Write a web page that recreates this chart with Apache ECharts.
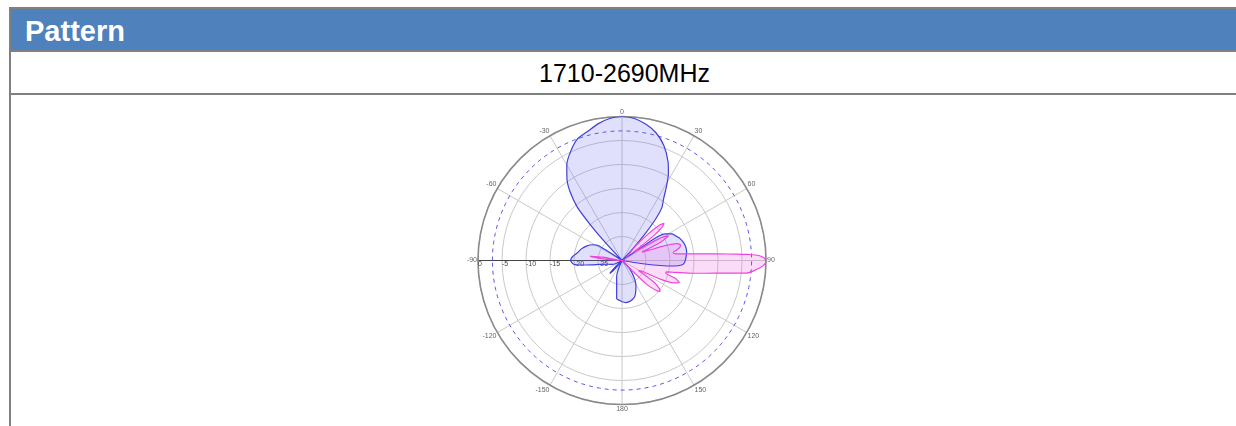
<!DOCTYPE html>
<html><head><meta charset="utf-8">
<script src="https://cdn.jsdelivr.net/npm/echarts@6/dist/echarts.min.js"></script>
<style>
html,body{margin:0;padding:0;width:1236px;height:426px;overflow:hidden;background:#fff;font-family:"Liberation Sans",Arial,sans-serif;}
#frame{position:absolute;left:9px;top:7px;width:1300px;height:500px;border-left:2px solid #808080;border-top:2px solid #808080;}
#hdr{position:absolute;left:0;top:0;right:0;height:41px;background:#4f81bd;border-bottom:2px solid #808080;}
#row2{position:absolute;left:0;top:43px;right:0;height:41px;border-bottom:2px solid #808080;}
#t1{position:absolute;left:25px;top:17px;font-size:29px;line-height:1;font-weight:bold;color:#fff;white-space:nowrap;}
#t2{position:absolute;left:0;width:1249px;top:61px;font-size:25px;line-height:1;color:#000;text-align:center;white-space:nowrap;}
#chart{position:absolute;left:0;top:0;width:1236px;height:426px;}
</style></head>
<body>
<div id="frame"><div id="hdr"></div><div id="row2"></div></div>
<div id="t1">Pattern</div>
<div id="t2">1710-2690MHz</div>
<div id="chart"></div>
<script>
// Compass angles (0 = up, clockwise) and gain in dB
const blueAngles = [-180,-176,-172,-170,-165,-161,-156,-142,-139,-136.5,-134,-132,-118,-112,-105,-100,-98,-96,-94,-90,-86,-80,-74,-68,-62,-58,-56.5,-55,-46,-43,-41.5,-40,-37,-34,-30,-25,-20,-15,-10,-5,0,5,10,15,20,25,28,31,34,37,39,41,43,45,54,56,58,62,66,70,76,82,88,92,94,96,97.5,99,101,133,138,146,152,160,165,170,175,180];
const blueGain   = [-21.4,-21.7,-22,-23.6,-25.7,-26.6,-30,-30,-27,-26.3,-28,-30,-30,-27.8,-27,-25.3,-23.5,-21,-19.8,-19.3,-19.6,-20.6,-21.2,-22,-23,-24,-27,-30,-30,-25,-20,-15.5,-12,-9.5,-7,-4.8,-3.0,-2.2,-1.1,-0.3,0,-0.3,-1.2,-2.5,-4.5,-7.3,-9.4,-12,-14.5,-16.2,-18.8,-23,-27,-30,-30,-24,-19.5,-18.2,-17.6,-17,-16.5,-16.4,-16.7,-17,-17.4,-19,-22,-26,-30,-30,-27.5,-25.2,-23.8,-22.1,-21.6,-21.3,-21.2,-21.4];

const pinkAngles = [-180,-87,-85,-82.5,-80,-78,40,43,45,47,48.5,50,52,54,57,59.5,62,64.5,67,69,71,73,75,77,79,81,82.5,84.8,86.1,86.8,87.2,87.9,89,90.5,92,93,94.5,95.8,96.3,97.6,100.2,102.5,104.5,106,108.5,111,113.5,116,118,121,124,127,129,131,134,137,180];
const pinkGain   = [-30,-30,-26,-23.3,-26,-30,-30,-26,-21.5,-19,-18.3,-19,-21.5,-27,-26,-21,-19,-21,-25.5,-24,-20.5,-18,-17.4,-17.6,-18.3,-19.2,-19,-15,-10,-6,-4,-1.5,-0.4,0,-0.5,-1.2,-2.5,-4,-6,-10,-15,-18.5,-20.5,-20.5,-18.3,-17.2,-18.3,-21,-25,-26,-22,-20.2,-19.8,-20.4,-23,-30,-30];

const refLevel = -3;          // half-power reference circle
const radiusMin = -30, radiusMax = 0, radiusStep = 5;
const angleStep = 30;

function toAxis(c){ return ((c + 90) % 360 + 360) % 360; }
function toCompass(v){ let c = v - 90; if (c > 180) c -= 360; return c; }

const blueData = blueAngles.map((a,i)=>[blueGain[i], toAxis(a)]);
const pinkData = pinkAngles.map((a,i)=>[pinkGain[i], toAxis(a)]);
const refData = [];
for (let a = 0; a <= 360; a += 2) refData.push([refLevel, a]);

const chart = echarts.init(document.getElementById('chart'), null, {renderer:'canvas'});
chart.setOption({
  animation:false,
  polar:{center:[622,260.5], radius:144},
  angleAxis:{
    type:'value', min:0, max:360, interval:angleStep, startAngle:180, clockwise:true,
    axisLine:{show:true, lineStyle:{color:'#8a8a8a', width:1.6}},
    axisTick:{show:false},
    axisLabel:{show:true, fontSize:7, color:'#666', margin:1, formatter:v=>String(toCompass(v))},
    splitLine:{show:true, lineStyle:{color:'#c8c8c8', width:1}}
  },
  radiusAxis:{
    type:'value', min:radiusMin, max:radiusMax, interval:radiusStep,
    axisLine:{show:true, lineStyle:{color:'#444', width:1}},
    axisTick:{show:false},
    axisLabel:{show:true, fontSize:7, color:'#444', margin:0, align:'left', verticalAlign:'top',
      formatter:v=> v===radiusMin ? '' : String(v)},
    splitLine:{show:true, lineStyle:{color:'#c8c8c8', width:1}}
  },
  series:[
    {type:'line', coordinateSystem:'polar', data:refData, symbol:'none', silent:true,
      lineStyle:{color:'#5a5ae6', width:1, type:[4,4]}},
    {type:'line', coordinateSystem:'polar', data:blueData, symbol:'none', smooth:0.25,
      lineStyle:{color:'#3f3fdc', width:1.2},
      areaStyle:{origin:'start', color:'rgba(110,110,240,0.3)'}},
    {type:'line', coordinateSystem:'polar', data:pinkData, symbol:'none', smooth:0.25,
      lineStyle:{color:'#ee44dd', width:1.2},
      areaStyle:{origin:'start', color:'rgba(240,110,225,0.35)'}}
  ]
});
</script>
</body></html>
